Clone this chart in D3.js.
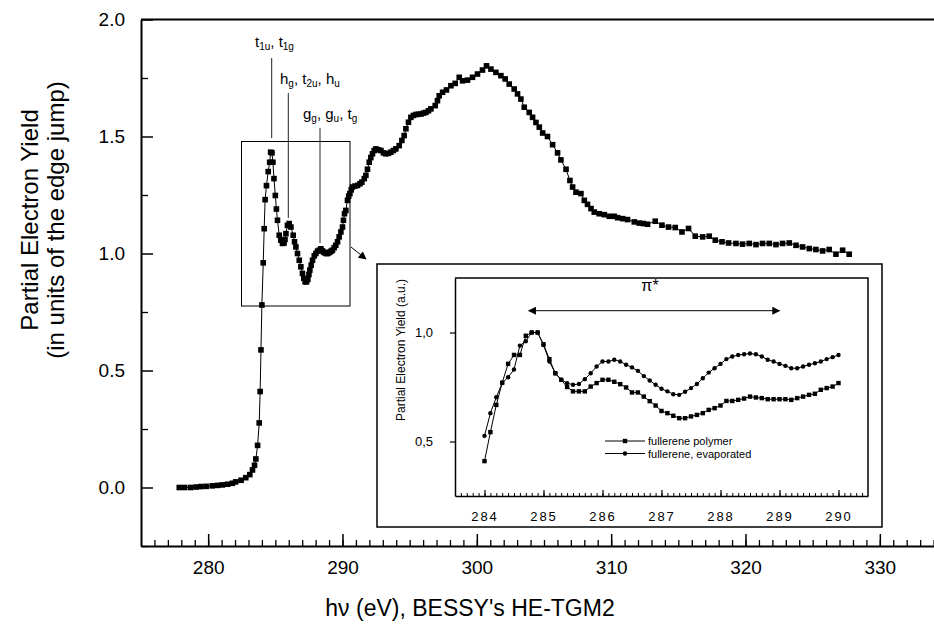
<!DOCTYPE html>
<html>
<head>
<meta charset="utf-8">
<script src="https://cdn.jsdelivr.net/npm/d3@7"></script>
<style>
  body { margin: 0; background: #fff; }
  svg { display: block; font-family: "Liberation Sans", Arial, Helvetica, sans-serif; }
</style>
</head>
<body>
<svg id="chart" width="934" height="632"></svg>
<script>
// ---DATA---//

// main spectrum, photon energy (eV) / partial electron yield
var mainEnergy = [277.85, 278.25, 278.7, 279.1, 279.45, 279.85, 280.3, 280.7, 281.05, 281.45,
  281.8, 282.05, 282.45, 282.8, 283.1, 283.3, 283.45, 283.55, 283.68, 283.8,
  283.87, 283.93, 284.0, 284.1, 284.17, 284.24, 284.34, 284.47, 284.58, 284.65,
  284.75, 284.82, 284.9, 285.0, 285.08, 285.16, 285.29, 285.41, 285.53, 285.65,
  285.72, 285.79, 285.9, 286.03, 286.16, 286.33, 286.43, 286.53, 286.65, 286.78,
  286.9, 287.02, 287.12, 287.22, 287.32, 287.42, 287.5, 287.57, 287.67, 287.77,
  287.9, 288.02, 288.14, 288.27, 288.39, 288.51, 288.6, 288.69, 288.78, 288.88,
  288.97, 289.06, 289.15, 289.25, 289.38, 289.5, 289.63, 289.75, 289.88, 290.0,
  290.07, 290.15, 290.25, 290.37, 290.46, 290.55, 290.65, 290.74, 290.92, 291.12,
  291.3, 291.44, 291.62, 291.74, 291.86, 291.99, 292.11, 292.23, 292.36, 292.49,
  292.68, 292.86, 293.05, 293.23, 293.42, 293.6, 293.79, 293.97, 294.22, 294.42,
  294.59, 294.72, 294.91, 295.09, 295.28, 295.47, 295.65, 295.84, 296.03, 296.21,
  296.4, 296.58, 296.9, 297.07, 297.2, 297.45, 297.74, 298.07, 298.39, 298.69,
  298.94, 299.31, 299.68, 300.05, 300.42, 300.72, 301.05, 301.42, 301.79, 302.11,
  302.41, 302.78, 303.03, 303.28, 303.53, 303.9, 304.15, 304.4, 304.65, 304.9,
  305.26, 305.64, 306.01, 306.26, 306.64, 306.93, 307.13, 307.38, 307.75, 308.0,
  308.24, 308.5, 308.74, 309.11, 309.49, 309.86, 310.23, 310.48, 310.85, 311.22,
  311.72, 312.09, 312.4, 312.71, 313.28, 313.78, 314.27, 314.77, 315.27, 315.76,
  316.26, 316.81, 317.3, 317.75, 318.25, 318.74, 319.29, 319.78, 320.28, 320.78,
  321.27, 321.77, 322.27, 322.76, 323.26, 323.76, 324.25, 324.75, 325.24, 325.74,
  326.23, 326.73, 327.23, 327.72];

var mainYield = [0.000, 0.000, 0.000, 0.002, 0.004, 0.005, 0.007, 0.009, 0.011, 0.014,
  0.018, 0.024, 0.031, 0.042, 0.055, 0.075, 0.095, 0.122, 0.18, 0.276,
  0.41, 0.588, 0.78, 0.96, 1.106, 1.23, 1.29, 1.35, 1.39, 1.433,
  1.43, 1.39, 1.32, 1.248, 1.19, 1.142, 1.078, 1.057, 1.043, 1.045,
  1.06, 1.085, 1.12, 1.128, 1.113, 1.078, 1.05, 1.028, 1.0, 0.971,
  0.943, 0.915, 0.894, 0.879, 0.879, 0.889, 0.91, 0.929, 0.95, 0.971,
  0.99, 1.0, 1.01, 1.014, 1.02, 1.011, 1.006, 1.003, 1.0, 1.0,
  1.003, 1.006, 1.01, 1.014, 1.025, 1.035, 1.05, 1.071, 1.092, 1.113,
  1.142, 1.17, 1.184, 1.227, 1.245, 1.256, 1.272, 1.284, 1.288, 1.291,
  1.298, 1.305, 1.32, 1.334, 1.36, 1.39, 1.41, 1.426, 1.44, 1.447,
  1.443, 1.44, 1.43, 1.426, 1.428, 1.433, 1.44, 1.447, 1.461, 1.483,
  1.504, 1.533, 1.561, 1.582, 1.59, 1.594, 1.595, 1.596, 1.6, 1.603,
  1.61, 1.618, 1.632, 1.653, 1.674, 1.689, 1.699, 1.717, 1.727, 1.753,
  1.738, 1.741, 1.753, 1.767, 1.784, 1.802, 1.788, 1.774, 1.76, 1.746,
  1.724, 1.703, 1.682, 1.66, 1.625, 1.603, 1.582, 1.56, 1.54, 1.515,
  1.50, 1.465, 1.43, 1.40, 1.36, 1.312, 1.284, 1.262, 1.256, 1.227,
  1.21, 1.192, 1.177, 1.17, 1.166, 1.159, 1.159, 1.153, 1.149, 1.145,
  1.135, 1.13, 1.128, 1.125, 1.138, 1.121, 1.113, 1.111, 1.092, 1.107,
  1.074, 1.071, 1.074, 1.057, 1.05, 1.045, 1.043, 1.04, 1.043, 1.038,
  1.043, 1.043, 1.038, 1.043, 1.045, 1.035, 1.028, 1.021, 1.017, 1.011,
  1.017, 0.997, 1.014, 0.997];

// inset, normalised yield
var insetEnergy = [284.0, 284.1, 284.2, 284.3, 284.4, 284.5, 284.6, 284.7, 284.8, 284.9,
  285.0, 285.1, 285.2, 285.3, 285.4, 285.5, 285.6, 285.7, 285.8, 285.9,
  286.0, 286.1, 286.2, 286.3, 286.4, 286.5, 286.6, 286.7, 286.8, 286.9,
  287.0, 287.1, 287.2, 287.3, 287.4, 287.5, 287.6, 287.7, 287.8, 287.9,
  288.0, 288.1, 288.2, 288.3, 288.4, 288.5, 288.6, 288.7, 288.8, 288.9,
  289.0, 289.1, 289.2, 289.3, 289.4, 289.5, 289.6, 289.7, 289.8, 289.9,
  290.0];

var polymerYield = [0.41, 0.543, 0.668, 0.77, 0.856, 0.897, 0.897, 0.985, 1.0, 1.0,
  0.946, 0.878, 0.813, 0.783, 0.75, 0.73, 0.73, 0.73, 0.752, 0.768,
  0.783, 0.783, 0.774, 0.763, 0.748, 0.725, 0.725, 0.706, 0.685, 0.665,
  0.64, 0.63, 0.618, 0.607, 0.607, 0.615, 0.622, 0.63, 0.645, 0.653,
  0.665, 0.686, 0.686, 0.691, 0.697, 0.706, 0.702, 0.699, 0.694, 0.694,
  0.694, 0.694, 0.691, 0.699, 0.706, 0.714, 0.719, 0.737, 0.745, 0.752,
  0.768];

var evaporatedYield = [0.526, 0.63, 0.703, 0.768, 0.795, 0.83, 0.94, 0.96, 1.0, 1.0,
  0.943, 0.867, 0.813, 0.783, 0.768, 0.76, 0.764, 0.786, 0.813, 0.844,
  0.867, 0.867, 0.875, 0.867, 0.852, 0.84, 0.824, 0.80, 0.78, 0.76,
  0.742, 0.73, 0.717, 0.714, 0.728, 0.745, 0.764, 0.79, 0.816, 0.836,
  0.856, 0.878, 0.89, 0.897, 0.9, 0.904, 0.9, 0.89, 0.875, 0.867,
  0.856, 0.847, 0.836, 0.836, 0.844, 0.852, 0.859, 0.867, 0.878, 0.887,
  0.897];

var mainYTicks = [0.0, 0.5, 1.0, 1.5, 2.0];
var mainXTicks = [280, 290, 300, 310, 320, 330];
var insetXTicks = [284, 285, 286, 287, 288, 289, 290];
var insetYTicks = [0.5, 1.0];
var legendLabels = ["fullerene polymer", "fullerene, evaporated"];

// ---SETUP---//

var svg = d3.select("#chart");

var x = d3.scaleLinear().domain([275, 335]).range([141, 947]);
var y = d3.scaleLinear().domain([-0.25, 2.0]).range([546, 19.5]);

var mainData = mainEnergy.map(function(e, i) {
  return [e, mainYield[i]];
});

// ---MAIN AXES---//

// minor x ticks, 1 eV
svg.append("g")
  .attr("transform", "translate(0,546)")
  .call(d3.axisBottom(x).tickValues(d3.range(276, 335, 1)).tickSize(-6).tickSizeOuter(0).tickFormat(""))
  .call(function(g) {
    g.select(".domain").attr("stroke-width", 2);
    g.selectAll(".tick line").attr("stroke-width", 1.3);
  });

// major x ticks with labels
svg.append("g")
  .attr("transform", "translate(0,546)")
  .call(d3.axisBottom(x).tickValues(mainXTicks).tickSize(-12).tickSizeOuter(0).tickPadding(15))
  .call(function(g) {
    g.select(".domain").remove();
    g.selectAll(".tick line").attr("stroke-width", 1.5);
    g.selectAll("text").attr("font-size", 19).attr("font-family", null).attr("fill", "#000");
  });

// minor y ticks
svg.append("g")
  .attr("transform", "translate(141,0)")
  .call(d3.axisLeft(y).tickValues([-0.25, 0.25, 0.75, 1.25, 1.75]).tickSize(-7).tickSizeOuter(0).tickFormat(""))
  .call(function(g) {
    g.select(".domain").attr("stroke-width", 2);
    g.selectAll(".tick line").attr("stroke-width", 1.3);
  });

svg.append("g")
  .attr("transform", "translate(141,0)")
  .call(d3.axisLeft(y).tickValues(mainYTicks).tickSize(-12).tickSizeOuter(0).tickPadding(16).tickFormat(d3.format(".1f")))
  .call(function(g) {
    g.select(".domain").remove();
    g.selectAll(".tick line").attr("stroke-width", 1.5);
    g.selectAll("text").attr("font-size", 19).attr("font-family", null).attr("fill", "#000");
  });

// top frame
svg.append("line")
  .attr("x1", x(275)).attr("x2", 934)
  .attr("y1", y(2.0)).attr("y2", y(2.0))
  .attr("stroke", "#000").attr("stroke-width", 2);

// axis titles
svg.append("text")
  .attr("x", 470).attr("y", 616)
  .attr("text-anchor", "middle")
  .attr("font-size", 23)
  .text("h\u03BD (eV), BESSY's HE-TGM2");

var yTitle = svg.append("text")
  .attr("transform", "translate(38,220) rotate(-90)")
  .attr("text-anchor", "middle")
  .attr("font-size", 24);
yTitle.append("tspan").attr("x", 0).attr("dy", 0).text("Partial Electron Yield");
yTitle.append("tspan").attr("x", 0).attr("dy", 26).text("(in units of the edge jump)");

// ---MAIN CURVE---//

svg.append("path")
  .datum(mainData)
  .attr("fill", "none")
  .attr("stroke", "#000")
  .attr("stroke-width", 1)
  .attr("d", d3.line().x(function(d) { return x(d[0]); }).y(function(d) { return y(d[1]); }));

svg.append("g").selectAll("rect")
  .data(mainData).enter().append("rect")
  .attr("x", function(d) { return x(d[0]) - 2.8; })
  .attr("y", function(d) { return y(d[1]) - 2.8; })
  .attr("width", 5.6).attr("height", 5.6)
  .attr("fill", "#000");

// zoom box and arrow
svg.append("rect")
  .attr("x", 241.5).attr("y", 141.5)
  .attr("width", 108.5).attr("height", 164.5)
  .attr("fill", "none").attr("stroke", "#000").attr("stroke-width", 1);

svg.append("defs").append("marker")
  .attr("id", "head")
  .attr("viewBox", "0 0 10 10")
  .attr("refX", 9).attr("refY", 5)
  .attr("markerWidth", 10).attr("markerHeight", 8)
  .attr("markerUnits", "userSpaceOnUse")
  .attr("orient", "auto-start-reverse")
  .append("path").attr("d", "M0,0L10,5L0,10Z").attr("fill", "#000");

svg.append("line")
  .attr("x1", 351).attr("y1", 247).attr("x2", 366).attr("y2", 259)
  .attr("stroke", "#000").attr("stroke-width", 1)
  .attr("marker-end", "url(#head)");

// ---PEAK LABELS---//

var peakLabels = [
  { x: 255, y: 50, parts: [["t", ""], ["1u", "sub"], [", t", ""], ["1g", "sub"]], lx: 271.7, ly1: 58, ly2: 138 },
  { x: 280, y: 87, parts: [["h", ""], ["g", "sub"], [", t", ""], ["2u", "sub"], [", h", ""], ["u", "sub"]], lx: 288.3, ly1: 93, ly2: 218 },
  { x: 303, y: 122, parts: [["g", ""], ["g", "sub"], [", g", ""], ["u", "sub"], [", t", ""], ["g", "sub"]], lx: 320, ly1: 128, ly2: 243 }
];

peakLabels.forEach(function(p) {
  var t = svg.append("text").attr("x", p.x).attr("y", p.y).attr("font-size", 15);
  p.parts.forEach(function(part) {
    if (part[1] === "sub") {
      t.append("tspan").attr("font-size", 10).attr("dy", 3).text(part[0]);
    } else {
      t.append("tspan").attr("dy", t.selectAll("tspan").size() ? -3 : 0).text(part[0]);
    }
  });
  svg.append("line")
    .attr("x1", p.lx).attr("x2", p.lx).attr("y1", p.ly1).attr("y2", p.ly2)
    .attr("stroke", "#222").attr("stroke-width", 1);
});

// ---INSET---//

var ix = d3.scaleLinear().domain([283.5, 290.5]).range([455, 868]);
var iy = d3.scaleLinear().domain([0.25, 1.25]).range([496, 278]);

svg.append("rect")
  .attr("x", 377).attr("y", 264)
  .attr("width", 505).attr("height", 263)
  .attr("fill", "#fff").attr("stroke", "#000").attr("stroke-width", 1.5);

// inset x ticks
svg.append("g")
  .attr("transform", "translate(0,496)")
  .call(d3.axisBottom(ix).tickValues(d3.range(283.6, 290.45, 0.1)).tickSize(-3).tickSizeOuter(0).tickFormat(""))
  .call(function(g) {
    g.select(".domain").attr("stroke-width", 1.5);
  });

svg.append("g")
  .attr("transform", "translate(0,496)")
  .call(d3.axisBottom(ix).tickValues(insetXTicks).tickSize(-6).tickSizeOuter(0).tickPadding(16).tickFormat(d3.format("d")))
  .call(function(g) {
    g.select(".domain").remove();
    g.selectAll(".tick line").attr("stroke-width", 1.2);
    g.selectAll("text").attr("font-size", 13).attr("font-family", null).attr("fill", "#000")
      .attr("letter-spacing", 2);
  });

svg.append("g")
  .attr("transform", "translate(455,0)")
  .call(d3.axisLeft(iy).tickValues(insetYTicks).tickSize(5).tickSizeOuter(0).tickPadding(17)
    .tickFormat(function(d) { return d3.format(".1f")(d).replace(".", ","); }))
  .call(function(g) {
    g.select(".domain").attr("stroke-width", 1.5);
    g.selectAll(".tick line").attr("stroke-width", 1.2);
    g.selectAll("text").attr("font-size", 13).attr("font-family", null).attr("fill", "#000");
  });

svg.append("path")
  .attr("d", "M455,278H868V496")
  .attr("fill", "none").attr("stroke", "#000").attr("stroke-width", 1.5);

svg.append("text")
  .attr("transform", "translate(405,350) rotate(-90)")
  .attr("text-anchor", "middle")
  .attr("font-size", 12)
  .text("Partial Electron Yield (a.u.)");

// pi* arrow
svg.append("text")
  .attr("x", 650).attr("y", 291)
  .attr("text-anchor", "middle")
  .attr("font-size", 16)
  .text("\u03C0*");

svg.append("line")
  .attr("x1", ix(284.75)).attr("x2", ix(289.0))
  .attr("y1", iy(1.1)).attr("y2", iy(1.1))
  .attr("stroke", "#000").attr("stroke-width", 1)
  .attr("marker-start", "url(#head)")
  .attr("marker-end", "url(#head)");

var polymerData = insetEnergy.map(function(e, i) { return [e, polymerYield[i]]; });
var evaporatedData = insetEnergy.map(function(e, i) { return [e, evaporatedYield[i]]; });

var insetLine = d3.line().x(function(d) { return ix(d[0]); }).y(function(d) { return iy(d[1]); });

[polymerData, evaporatedData].forEach(function(data) {
  svg.append("path").datum(data)
    .attr("fill", "none").attr("stroke", "#000").attr("stroke-width", 1)
    .attr("d", insetLine);
});

svg.append("g").selectAll("rect")
  .data(polymerData).enter().append("rect")
  .attr("x", function(d) { return ix(d[0]) - 2.2; })
  .attr("y", function(d) { return iy(d[1]) - 2.2; })
  .attr("width", 4.4).attr("height", 4.4)
  .attr("fill", "#000");

svg.append("g").selectAll("circle")
  .data(evaporatedData).enter().append("circle")
  .attr("cx", function(d) { return ix(d[0]); })
  .attr("cy", function(d) { return iy(d[1]); })
  .attr("r", 2.2)
  .attr("fill", "#000");

// legend
legendLabels.forEach(function(label, i) {
  var ly = 441 + i * 12.5;
  var g = svg.append("g");
  g.append("line").attr("x1", 605).attr("x2", 645).attr("y1", ly).attr("y2", ly)
    .attr("stroke", "#000").attr("stroke-width", 1);
  if (i === 0) {
    g.append("rect").attr("x", 622.8).attr("y", ly - 2.2).attr("width", 4.4).attr("height", 4.4).attr("fill", "#000");
  } else {
    g.append("circle").attr("cx", 625).attr("cy", ly).attr("r", 2.2).attr("fill", "#000");
  }
  g.append("text").attr("x", 648).attr("y", ly + 4).attr("font-size", 11).text(label);
});
</script>
</body>
</html>
